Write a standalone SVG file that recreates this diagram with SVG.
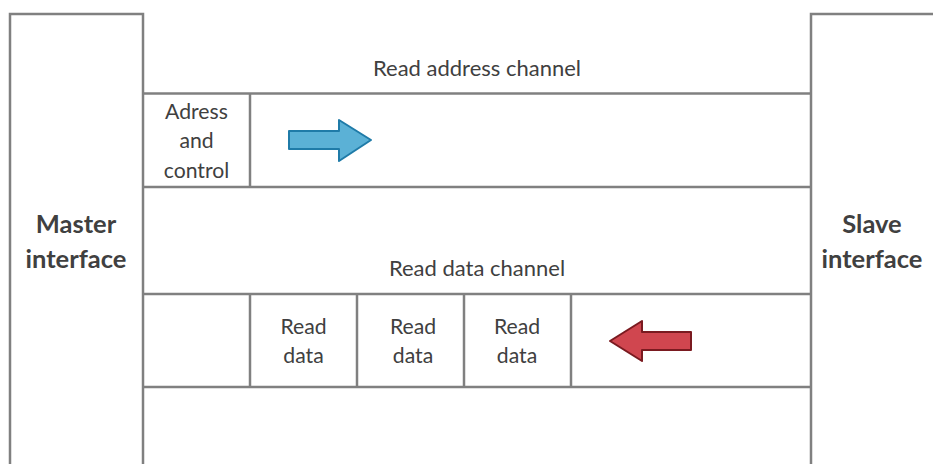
<svg xmlns="http://www.w3.org/2000/svg" width="933" height="464" viewBox="0 0 933 464">
<style>
.box{fill:#fff;stroke:#808080;stroke-width:2.5}
.ln{stroke:#808080;stroke-width:2.5;fill:none}
.t{font-family:Lato,"Liberation Sans",sans-serif;font-size:21.2px;fill:#404040;text-anchor:middle}
.c{font-family:Lato,"Liberation Sans",sans-serif;font-size:22px;fill:#404040;text-anchor:middle}
.b{font-family:Lato,"Liberation Sans",sans-serif;font-size:25.5px;font-weight:bold;fill:#404040;text-anchor:middle}
</style>
<rect width="933" height="464" fill="#fff"/>
<g id="master"><rect class="box" x="10" y="14" width="133" height="470"/>
<text class="b" x="76" y="233">Master</text><text class="b" x="76" y="268">interface</text></g>
<g id="slave"><rect class="box" x="811" y="14" width="140" height="470"/>
<text class="b" x="872" y="233">Slave</text><text class="b" x="872" y="268">interface</text></g>
<g id="read-address-channel">
<line class="ln" x1="143" y1="93.5" x2="811" y2="93.5"/>
<line class="ln" x1="143" y1="187" x2="811" y2="187"/>
<text class="c" x="477" y="76">Read address channel</text>
</g>
<g id="address-control"><line class="ln" x1="250" y1="93.5" x2="250" y2="187"/>
<text class="t" x="196.5" y="119">Adress</text><text class="t" x="196.5" y="148">and</text><text class="t" x="196.5" y="178">control</text></g>
<g id="read-data-channel">
<line class="ln" x1="143" y1="294" x2="811" y2="294"/>
<line class="ln" x1="143" y1="387" x2="811" y2="387"/>
<text class="c" x="477" y="276">Read data channel</text>
</g>
<g id="data1"><line class="ln" x1="250" y1="294" x2="250" y2="387"/><text class="t" x="303.5" y="334">Read</text><text class="t" x="303.5" y="363">data</text></g>
<g id="data2"><line class="ln" x1="357" y1="294" x2="357" y2="387"/><text class="t" x="413" y="334">Read</text><text class="t" x="413" y="363">data</text></g>
<g id="data3"><line class="ln" x1="464" y1="294" x2="464" y2="387"/><text class="t" x="517" y="334">Read</text><text class="t" x="517" y="363">data</text></g>
<g id="data4"><line class="ln" x1="571" y1="294" x2="571" y2="387"/></g>
<g id="connectors">
<polygon points="289,131 339,131 339,120 371,140 339,161 339,149 289,149" fill="#5BB1D6" stroke="#1F7BA8" stroke-width="2" stroke-linejoin="round"/>
<polygon points="691,332 642,332 642,321 610,341 642,361 642,350 691,350" fill="#D0464F" stroke="#7A1A20" stroke-width="2" stroke-linejoin="round"/>
</g>
</svg>
